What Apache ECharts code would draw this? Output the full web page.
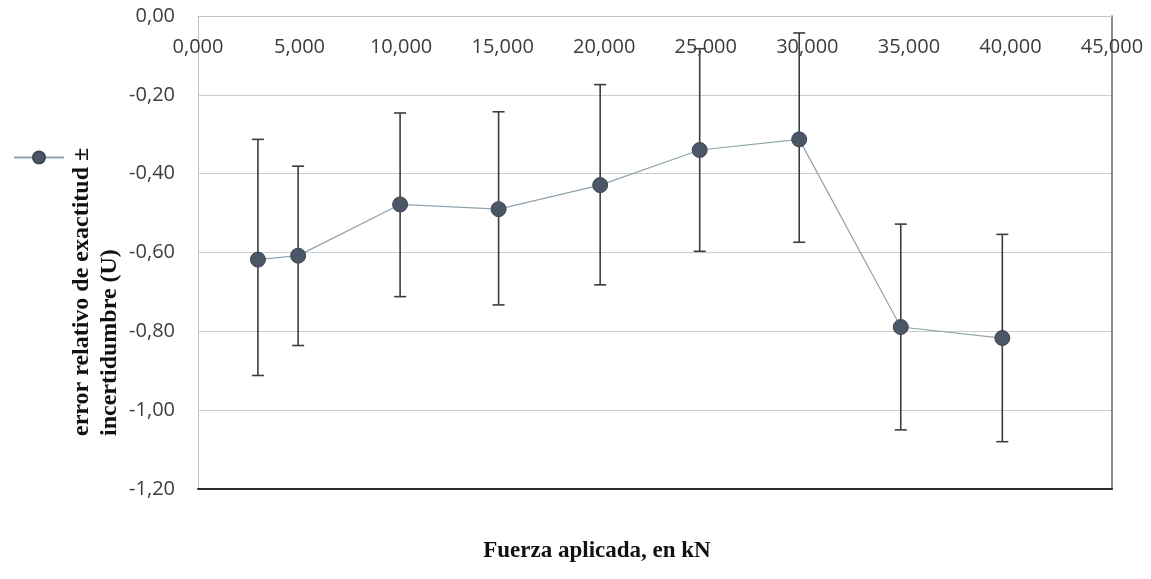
<!DOCTYPE html>
<html>
<head>
<meta charset="utf-8">
<script src="https://cdn.jsdelivr.net/npm/echarts@6/dist/echarts.min.js"></script>
<style>
html,body{margin:0;padding:0;background:#fff;}
#chart{width:1151px;height:579px;}
</style>
</head>
<body>
<div id="chart"></div>
<script>
// Data
var forceKN = [2.95, 4.93, 9.95, 14.8, 19.8, 24.7, 29.6, 34.6, 39.6];
var relError = [-0.618, -0.608, -0.478, -0.490, -0.429, -0.340, -0.313, -0.789, -0.817];
var errLow  = [-0.912, -0.836, -0.712, -0.733, -0.682, -0.597, -0.574, -1.050, -1.080];
var errHigh = [-0.313, -0.381, -0.246, -0.243, -0.174, -0.083, -0.043, -0.528, -0.554];
var seriesName = 'error relativo de exactitud ± incertidumbre (U)';
var yTitle = 'error relativo de exactitud ±\nincertidumbre (U)';
var xTitle = 'Fuerza aplicada, en kN';

var points = forceKN.map(function (x, i) { return [x, relError[i]]; });
var bars = forceKN.map(function (x, i) { return [x, errLow[i], errHigh[i]]; });

function fmtX(v) { return v.toFixed(3).replace('.', ','); }
function fmtY(v) { if (Math.abs(v) < 1e-9) return '0,00'; return v.toFixed(2).replace('.', ','); }

var chart = echarts.init(document.getElementById('chart'));
var labelFont = '"Open Sans", "Noto Sans", sans-serif';
var option = {
  backgroundColor: '#ffffff',
  animation: false,
  grid: { left: 198, right: 39, top: 16, bottom: 90, containLabel: false },
  legend: {
    show: true,
    left: 8, top: 145,
    itemWidth: 50, itemHeight: 15,
    formatter: function () { return ''; },
    data: [seriesName]
  },
  xAxis: [{
    type: 'value', position: 'top', min: 0, max: 45, interval: 5,
    axisLine: { show: true, onZero: false, lineStyle: { color: '#c4c4c4', width: 1 } },
    axisTick: { show: false },
    splitLine: { show: false },
    axisLabel: { inside: true, margin: 21, formatter: fmtX, color: '#3c3c3c', fontSize: 20, fontFamily: labelFont }
  }, {
    type: 'value', position: 'bottom', min: 0, max: 45, interval: 5,
    axisLine: { show: true, onZero: false, lineStyle: { color: '#2a2a2a', width: 2 } },
    axisTick: { show: false }, axisLabel: { show: false }, splitLine: { show: false }
  }],
  yAxis: [{
    type: 'value', min: -1.2, max: 0, interval: 0.2,
    axisLine: { show: true, onZero: false, lineStyle: { color: '#c4c4c4', width: 1 } },
    axisTick: { show: false },
    splitLine: { show: true, lineStyle: { color: '#cccccc', width: 1 } },
    axisLabel: { margin: 23, formatter: fmtY, color: '#3c3c3c', fontSize: 20, fontFamily: labelFont }
  }, {
    type: 'value', position: 'right', min: -1.2, max: 0, interval: 0.2,
    axisLine: { show: true, onZero: false, lineStyle: { color: '#666666', width: 1.5 } },
    axisTick: { show: false }, axisLabel: { show: false }, splitLine: { show: false }
  }],
  graphic: [{
    type: 'text', x: 68, y: 436, rotation: Math.PI / 2,
    style: {
      text: yTitle, fill: '#111', textAlign: 'left', textVerticalAlign: 'top',
      font: 'bold 24px "Liberation Serif", "DejaVu Serif", serif', lineHeight: 28
    }
  }, {
    type: 'text', x: 597, y: 551,
    style: {
      text: xTitle, fill: '#111', textAlign: 'center', textVerticalAlign: 'middle',
      font: 'bold 23px "Liberation Serif", "DejaVu Serif", serif'
    }
  }],
  series: [{
    name: 'errbars',
    type: 'custom',
    xAxisIndex: 0, yAxisIndex: 0,
    data: bars,
    z: 3,
    renderItem: function (params, api) {
      var x = api.value(0);
      var lo = api.coord([x, api.value(1)]);
      var hi = api.coord([x, api.value(2)]);
      var cw = 6;
      var st = { stroke: '#3d3d3d', lineWidth: 1.6 };
      return {
        type: 'group',
        children: [
          { type: 'line', shape: { x1: lo[0], y1: lo[1], x2: hi[0], y2: hi[1] }, style: st },
          { type: 'line', shape: { x1: lo[0] - cw, y1: lo[1], x2: lo[0] + cw, y2: lo[1] }, style: st },
          { type: 'line', shape: { x1: hi[0] - cw, y1: hi[1], x2: hi[0] + cw, y2: hi[1] }, style: st }
        ]
      };
    }
  }, {
    name: seriesName,
    type: 'line',
    xAxisIndex: 0, yAxisIndex: 0,
    data: points,
    z: 4,
    symbol: 'circle', symbolSize: 15,
    lineStyle: { color: '#8fa3ad', width: 1.2 },
    itemStyle: { color: '#4b5767', borderColor: '#3e4753', borderWidth: 1 }
  }]
};
chart.setOption(option);
</script>
</body>
</html>
